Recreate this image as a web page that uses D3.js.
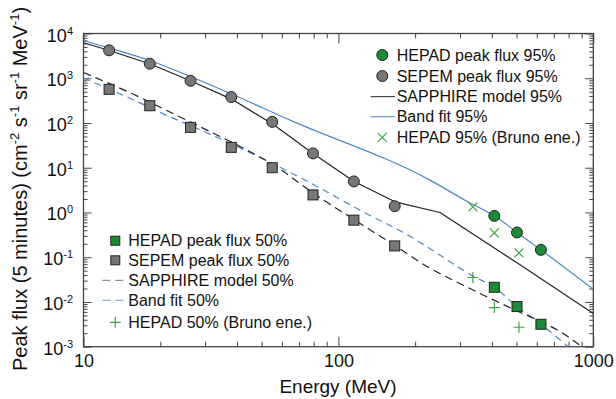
<!DOCTYPE html>
<html><head><meta charset="utf-8">
<script src="https://cdn.jsdelivr.net/npm/d3@7"></script>
<style>
body{margin:0;background:#fff}
svg{display:block;font-family:Arial,"Liberation Sans",Helvetica,sans-serif}
</style>
</head><body>
<svg id="c" width="616" height="399"></svg>
<script>
// ---------- data ----------
const energySEPEM = [12.6, 18.2, 26.3, 38.0, 55.0, 79.5, 115.0, 166.3];
const sepem95 = [4210, 2110, 879, 380, 106, 20.9, 4.94, 1.38];
const sepem50 = [565, 243, 79.8, 28.5, 10.0, 2.47, 0.673, 0.179];

const energyHEPAD = [409, 502, 623];
const hepad95 = [0.84, 0.357, 0.146];
const hepad50 = [0.0213, 0.00789, 0.00317];

const energyBruno = [337, 409, 511];
const bruno95 = [1.33, 0.35, 0.125];
const bruno50 = [0.0352, 0.0075, 0.00272];

const sapphire95E = [10, 12.63, 18.29, 26.4, 38.1, 55.2, 79.5, 115.3, 166.7, 250.4, 502, 1000];
const sapphire95 = [6226, 4166, 2079, 866, 342, 94.5, 20.9, 4.94, 1.73, 1.0, 0.075, 0.0055];

const band95E = [10, 12.63, 18.29, 26.4, 38.1, 64.6, 228.8, 313.8, 409, 502, 623, 1000];
const band95 = [6900, 4738, 2464, 1081, 443, 116, 5.28, 1.88, 0.84, 0.357, 0.146, 0.0192];

const sapphire50E = [10, 15.78, 22.65, 31.07, 42.63, 55.89, 79.7, 115.4, 166.7, 228.8, 309.0, 393.3, 515.6, 656.6, 786.5, 903];
const sapphire50 = [1341, 431.9, 158.2, 65.9, 26.8, 11.4, 2.70, 0.690, 0.1808, 0.0567, 0.02363, 0.0121, 0.00588, 0.00317, 0.00175, 0.000985];

const band50E = [10, 15.92, 21.07, 31.36, 45.0, 76.2, 121.5, 196.7, 228.8, 338.1, 409, 502, 623, 797.9];
const band50 = [1010, 317, 150.2, 56.4, 21.8, 4.84, 1.126, 0.266, 0.155, 0.0376, 0.0213, 0.00789, 0.00317, 0.001];

const xMajorTicks = [10, 100, 1000];
const yMajorTicks = [1e-3, 1e-2, 1e-1, 1e0, 1e1, 1e2, 1e3, 1e4];
const yTickExp = ["-3", "-2", "-1", "0", "1", "2", "3", "4"];

const legend95 = ["HEPAD peak flux 95%", "SEPEM peak flux 95%", "SAPPHIRE model 95%", "Band fit 95%", "HEPAD 95% (Bruno ene.)"];
const legend50 = ["HEPAD peak flux 50%", "SEPEM peak flux 50%", "SAPPHIRE model 50%", "Band fit 50%", "HEPAD 50% (Bruno ene.)"];

// ---------- styles ----------
const GREEN = "#1f8a35", GREEN2 = "#3ea444", GRAY = "#777777", BLUE = "#4d87c7", BLACK = "#222", AX = "#444";

const svg = d3.select("#c");
const L = 83.5, R = 593.3, T = 33.5, B = 346.7;
const x = d3.scaleLog().domain([10, 1000]).range([L, R]);
const y = d3.scaleLog().domain([1e-3, 1e4]).range([B, T]);

svg.append("clipPath").attr("id", "clip").append("rect")
  .attr("x", L).attr("y", T).attr("width", R - L).attr("height", B - T);

const xMinor = x.ticks().filter(v => !xMajorTicks.includes(v));
const yMinor = y.ticks().filter(v => !yMajorTicks.some(m => Math.abs(m - v) / m < 1e-6));

function styleAxis(g) {
  g.select(".domain").remove();
  g.selectAll("line").attr("stroke", AX).attr("stroke-width", 1);
}
// bottom
svg.append("g").attr("transform", `translate(0,${B})`)
  .call(d3.axisBottom(x).tickValues(xMajorTicks).tickSize(-10).tickSizeOuter(0).tickPadding(7.5).tickFormat(d3.format("d")))
  .call(styleAxis)
  .call(g => g.selectAll("text").attr("font-size", 18).attr("fill", "#111").attr("font-family", null));
svg.append("g").attr("transform", `translate(0,${B})`)
  .call(d3.axisBottom(x).tickValues(xMinor).tickSize(-5).tickSizeOuter(0).tickFormat(""))
  .call(styleAxis);
// top
svg.append("g").attr("transform", `translate(0,${T})`)
  .call(d3.axisTop(x).tickValues(xMajorTicks).tickSize(-10).tickSizeOuter(0).tickFormat(""))
  .call(styleAxis);
svg.append("g").attr("transform", `translate(0,${T})`)
  .call(d3.axisTop(x).tickValues(xMinor).tickSize(-5).tickSizeOuter(0).tickFormat(""))
  .call(styleAxis);
// left
svg.append("g").attr("transform", `translate(${L},0)`)
  .call(d3.axisLeft(y).tickValues(yMajorTicks).tickSize(-8).tickSizeOuter(0).tickFormat(""))
  .call(styleAxis);
svg.append("g").attr("transform", `translate(${L},0)`)
  .call(d3.axisLeft(y).tickValues(yMinor).tickSize(-4).tickSizeOuter(0).tickFormat(""))
  .call(styleAxis);
// right
svg.append("g").attr("transform", `translate(${R},0)`)
  .call(d3.axisRight(y).tickValues(yMajorTicks).tickSize(-8).tickSizeOuter(0).tickFormat(""))
  .call(styleAxis);
svg.append("g").attr("transform", `translate(${R},0)`)
  .call(d3.axisRight(y).tickValues(yMinor).tickSize(-4).tickSizeOuter(0).tickFormat(""))
  .call(styleAxis);

// frame
svg.append("rect").attr("x", L).attr("y", T).attr("width", R - L).attr("height", B - T)
  .attr("fill", "none").attr("stroke", AX).attr("stroke-width", 1.3);

// y tick labels
const yl = svg.append("g").attr("fill", "#111");
yMajorTicks.forEach((v, i) => {
  const t = yl.append("text").attr("x", 73).attr("y", y(v) + 8).attr("text-anchor", "end").attr("font-size", 18);
  t.append("tspan").text("10");
  t.append("tspan").attr("font-size", 11).attr("dy", -7).text(yTickExp[i]);
});

// axis titles
svg.append("text").attr("x", 338).attr("y", 393).attr("text-anchor", "middle")
  .attr("font-size", 19).attr("fill", "#111").text("Energy (MeV)");
const yt = svg.append("text").attr("transform", "translate(27,189) rotate(-90)")
  .attr("text-anchor", "middle").attr("font-size", 20).attr("fill", "#111");
yt.append("tspan").text("Peak flux (5 minutes) (cm");
yt.append("tspan").attr("font-size", 13).attr("dy", -8).text("-2");
yt.append("tspan").attr("dy", 8).text(" s");
yt.append("tspan").attr("font-size", 13).attr("dy", -8).text("-1");
yt.append("tspan").attr("dy", 8).text(" sr");
yt.append("tspan").attr("font-size", 13).attr("dy", -8).text("-1");
yt.append("tspan").attr("dy", 8).text(" MeV");
yt.append("tspan").attr("font-size", 13).attr("dy", -8).text("-1");
yt.append("tspan").attr("dy", 8).text(")");

// ---------- lines ----------
const plot = svg.append("g").attr("clip-path", "url(#clip)");
const line = d3.line().x(d => x(d[0])).y(d => y(d[1])).curve(d3.curveMonotoneX);
const lineLin = d3.line().x(d => x(d[0])).y(d => y(d[1]));
const zip = (a, b) => a.map((v, i) => [v, b[i]]);

plot.append("path").datum(zip(band95E, band95)).attr("d", line)
  .attr("fill", "none").attr("stroke", BLUE).attr("stroke-width", 1.2);
plot.append("path").datum(zip(sapphire95E, sapphire95)).attr("d", lineLin)
  .attr("fill", "none").attr("stroke", BLACK).attr("stroke-width", 1.2).attr("stroke-linejoin", "round");
plot.append("path").datum(zip(band50E, band50)).attr("d", line)
  .attr("fill", "none").attr("stroke", BLUE).attr("stroke-width", 1.2).attr("stroke-dasharray", "7,5");
plot.append("path").datum(zip(sapphire50E, sapphire50)).attr("d", line)
  .attr("fill", "none").attr("stroke", BLACK).attr("stroke-width", 1.2).attr("stroke-dasharray", "8,5");

// ---------- markers ----------
const crossX = "M-4.5,-4.5L4.5,4.5M-4.5,4.5L4.5,-4.5";
const plusP = "M-5.5,0H5.5M0,-5.5V5.5";

function circles(E, F, fill) {
  plot.append("g").selectAll("circle").data(zip(E, F)).join("circle")
    .attr("cx", d => x(d[0])).attr("cy", d => y(d[1])).attr("r", 5.5)
    .attr("fill", fill).attr("stroke", BLACK).attr("stroke-width", 1);
}
function squares(E, F, fill) {
  plot.append("g").selectAll("rect").data(zip(E, F)).join("rect")
    .attr("x", d => x(d[0]) - 5).attr("y", d => y(d[1]) - 5).attr("width", 10).attr("height", 10)
    .attr("fill", fill).attr("stroke", BLACK).attr("stroke-width", 1);
}
function symbols(E, F, p) {
  plot.append("g").selectAll("path").data(zip(E, F)).join("path")
    .attr("transform", d => `translate(${x(d[0])},${y(d[1])})`).attr("d", p)
    .attr("fill", "none").attr("stroke", GREEN2).attr("stroke-width", 1.2);
}
circles(energySEPEM, sepem95, GRAY);
squares(energySEPEM, sepem50, GRAY);
circles(energyHEPAD, hepad95, GREEN);
squares(energyHEPAD, hepad50, GREEN);
symbols(energyBruno, bruno95, crossX);
symbols(energyBruno, bruno50, plusP);

// ---------- legends ----------
function legend(labels, mx, tx, rows, l0, l1, kind) {
  const g = svg.append("g");
  labels.forEach((lab, i) => {
    const cy = rows[i];
    if (i === 0 || i === 1) {
      const fill = i === 0 ? GREEN : GRAY;
      if (kind === 95) g.append("circle").attr("cx", mx).attr("cy", cy).attr("r", 5.5).attr("fill", fill).attr("stroke", BLACK);
      else g.append("rect").attr("x", mx - 4.5).attr("y", cy - 4.5).attr("width", 9).attr("height", 9).attr("fill", fill).attr("stroke", BLACK);
    } else if (i === 2 || i === 3) {
      const ln = g.append("line").attr("x1", l0).attr("x2", l1).attr("y1", cy).attr("y2", cy)
        .attr("stroke", i === 2 ? BLACK : BLUE).attr("stroke-width", 1);
      if (kind === 50) ln.attr("stroke-dasharray", "8,5").attr("stroke-opacity", i === 2 ? 0.6 : 0.8);
    } else {
      g.append("path").attr("transform", `translate(${mx},${cy})`).attr("d", kind === 95 ? crossX : plusP)
        .attr("fill", "none").attr("stroke", GREEN2).attr("stroke-width", 1.2);
    }
    g.append("text").attr("x", tx).attr("y", cy).attr("dy", "0.36em").attr("font-size", 16).attr("fill", "#111").text(lab);
  });
}
legend(legend95, 382.3, 396.7, [55, 76, 96.7, 116.7, 137.3], 370.7, 395, 95);
legend(legend50, 115.3, 128.3, [240.7, 260.3, 280.3, 300.3, 322.3], 102.3, 126.7, 50);
</script>
</body></html>
